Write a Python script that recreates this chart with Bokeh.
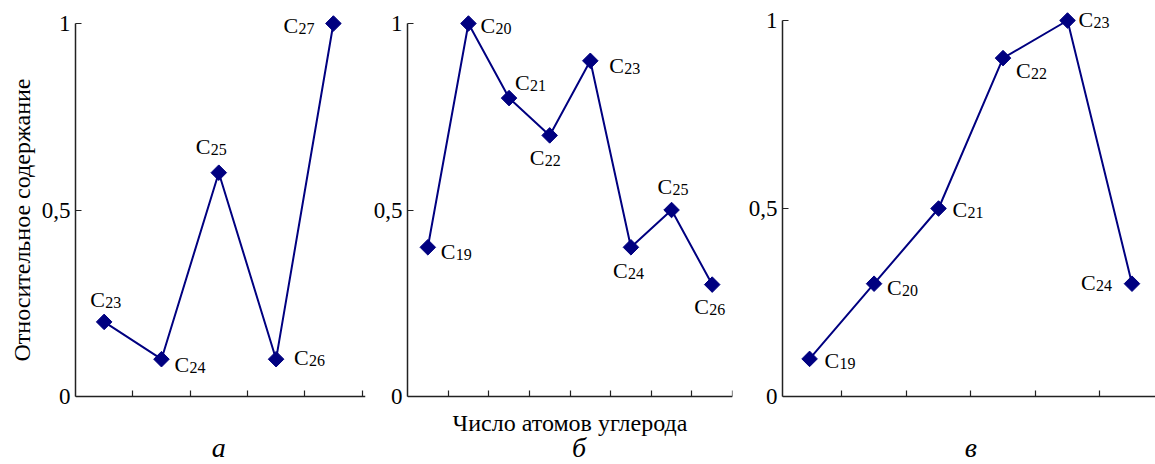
import numpy as np
from bokeh.plotting import figure
from bokeh.layouts import row
from bokeh.models import ColumnDataSource, FixedTicker, Range1d, Title
from bokeh.core.properties import value
from bokeh.embed import file_html
from bokeh.resources import INLINE

# ---- data ----
cats_a = ["23", "24", "25", "26", "27"]
vals_a = [0.2, 0.1, 0.6, 0.1, 1.0]

cats_b = ["19", "20", "21", "22", "23", "24", "25", "26"]
vals_b = [0.4, 1.0, 0.8, 0.7, 0.9, 0.4, 0.5, 0.3]

cats_c = ["19", "20", "21", "22", "23", "24"]
vals_c = [0.1, 0.3, 0.5, 0.9, 1.0, 0.3]

y_ticks = [0, 0.5, 1]
y_tick_labels = ["0", "0,5", "1"]
panel_letters = ["а", "б", "в"]
x_title = "Число атомов углерода"
y_title = "Относительное содержание"

# label placement (pixel offsets of "C" from its point) - styling only
off_a = [(-14, -14), (13, 13), (-23, -18), (18, 6), (-50, 10)]
off_b = [(13, 12), (12, 10), (6, -8), (-20, 30), (19, 13), (-18, 31), (-14, -16), (-18, 30)]
off_c = [(15, 10), (13, 12), (14, 9), (13, 20), (11, 7), (-51, 7)]
DY_FIX = -8

NAVY = "#000080"
SERIF = "Liberation Serif"
H = 464
Y0_PX = 396  # pixel row of value 0


def panel(cats, vals, offs, width, lb, rb, xr, y1_px, letter, letter_dx=0, xlabel=None):
    n = len(cats)
    ppu = Y0_PX - y1_px
    y_lo = -(H - Y0_PX) / ppu
    y_hi = 1 + y1_px / ppu
    xs = [i + 0.5 for i in range(n)]
    src = ColumnDataSource(dict(
        x=xs, y=vals,
        c=["C"] * n, sub=cats,
        dx=[o[0] for o in offs], dy=[o[1] + DY_FIX for o in offs],
        sdx=[o[0] + 15 for o in offs], sdy=[o[1] + DY_FIX + 3 for o in offs],
    ))
    p = figure(width=width, height=H, output_backend="svg", toolbar_location=None,
               x_range=Range1d(*xr), y_range=Range1d(y_lo, y_hi),
               min_border_left=lb, min_border_right=rb, min_border_top=0, min_border_bottom=0,
               background_fill_color="white", border_fill_color="white")
    p.outline_line_color = None
    p.xgrid.visible = False
    p.ygrid.visible = False

    p.line("x", "y", source=src, line_color=NAVY, line_width=2)
    p.scatter("x", "y", source=src, marker="square", size=11, angle=np.pi / 4,
              fill_color=NAVY, line_color=NAVY, line_width=1)
    p.text("x", "y", text="c", source=src, x_offset="dx", y_offset="dy",
           text_font=value(SERIF), text_font_size="22px", text_color="black",
           text_align="left", text_baseline="alphabetic")
    p.text("x", "y", text="sub", source=src, x_offset="sdx", y_offset="sdy",
           text_font=value(SERIF), text_font_size="16px", text_color="black",
           text_align="left", text_baseline="alphabetic")

    # panel letter (and x title) under the axis
    p.text(x=[n / 2], y=[0], text=[letter], x_offset=letter_dx, y_offset=59 + DY_FIX,
           text_font=value(SERIF), text_font_style="italic", text_font_size="28px",
           text_color="black", text_align="center", text_baseline="alphabetic")
    if xlabel:
        p.text(x=[n / 2], y=[0], text=[xlabel], y_offset=34 + DY_FIX,
               text_font=value(SERIF), text_font_size="24px",
               text_color="black", text_align="center", text_baseline="alphabetic")

    xt = list(range(1, int(np.floor(xr[1] + 1e-9)) + 1))
    ax = p.xaxis[0]
    ax.fixed_location = 0
    ax.ticker = FixedTicker(ticks=xt)
    ax.major_label_overrides = {t: "" for t in xt}
    ax.major_label_text_font_size = "0px"
    ax.major_label_standoff = 0
    ax.major_tick_in = 6
    ax.major_tick_out = 0
    ax.minor_tick_line_color = None
    ax.axis_line_width = 1.5
    ax.axis_line_color = "#222222"
    ax.major_tick_line_color = "#222222"
    ax.major_tick_line_width = 1.2

    ay = p.yaxis[0]
    ay.ticker = FixedTicker(ticks=y_ticks)
    ay.major_label_overrides = {t: l for t, l in zip(y_ticks, y_tick_labels)}
    ay.bounds = (0, 1)
    ay.major_tick_in = 6
    ay.major_tick_out = 0
    ay.minor_tick_line_color = None
    ay.axis_line_width = 1.5
    ay.axis_line_color = "#222222"
    ay.major_tick_line_color = "#222222"
    ay.major_tick_line_width = 1.2
    ay.major_label_standoff = 5
    ay.major_label_text_font = SERIF
    ay.major_label_text_font_size = "23px"
    ay.major_label_text_color = "black"
    return p


pa = panel(cats_a, vals_a, off_a, 370, 75, 5, (0, 5.06), 23, panel_letters[0])
pb = panel(cats_b, vals_b, off_b, 375, 35, 13, (0, 8.0), 23, panel_letters[1], letter_dx=9,
           xlabel=x_title)
pc = panel(cats_c, vals_c, off_c, 410, 34, 0, (0.08, 0.08 + 376 / 65), 20, panel_letters[2])

pa.add_layout(Title(text=y_title, align="right", offset=78, standoff=8,
                    text_font=SERIF, text_font_size="24px", text_font_style="normal",
                    text_color="black"), "left")

layout = row(pa, pb, pc)
open("out.html", "w").write(file_html(layout, INLINE))
